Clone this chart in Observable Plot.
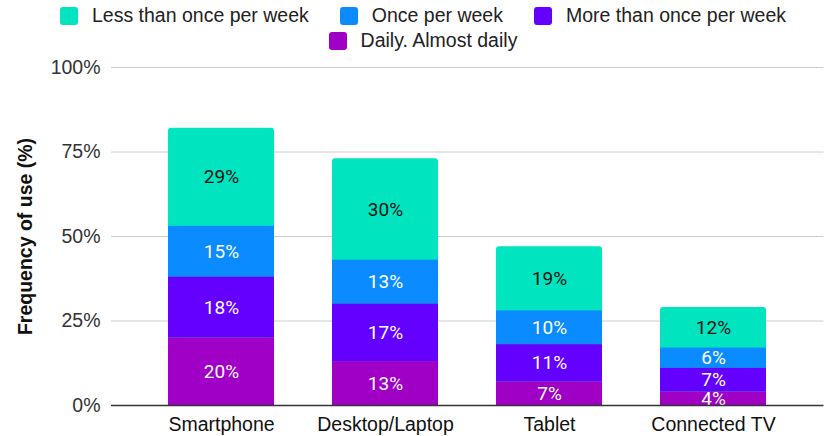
<!DOCTYPE html>
<html>
<head>
<meta charset="utf-8">
<script src="https://cdn.jsdelivr.net/npm/d3@7"></script>
<script src="https://cdn.jsdelivr.net/npm/@observablehq/plot@0.6"></script>
<style>
  html, body { margin: 0; padding: 0; background: #fff; }
  body { font-family: "Liberation Sans", Arial, sans-serif; width: 826px; }
  .legend { height: 55px; padding-left: 20px; padding-top: 3px; box-sizing: border-box; width: 826px; }
  .row { display: flex; justify-content: center; align-items: center; height: 25px; }
  .item { display: flex; align-items: center; margin: 0 15.5px; font-size: 19.5px; color: #222; }
  .sw { width: 18px; height: 18px; border-radius: 3px; margin-right: 14px; }
  svg { display: block; }
</style>
</head>
<body>
<div class="legend" id="legend"></div>
<div id="chart"></div>
<script>
const categories = ["Smartphone", "Desktop/Laptop", "Tablet", "Connected TV"];
const seriesNames = ["Less than once per week", "Once per week", "More than once per week", "Daily. Almost daily"];
const seriesColors = ["#00e5c0", "#0a8bff", "#6400ff", "#a000c6"];
const lessThanOnce = [29, 30, 19, 12];
const oncePerWeek = [15, 13, 10, 6];
const moreThanOnce = [18, 17, 11, 7];
const daily = [20, 13, 7, 4];
const yTicks = [0, 25, 50, 75, 100];

const seriesValues = [lessThanOnce, oncePerWeek, moreThanOnce, daily];
const rows = [];
seriesNames.forEach((s, si) => {
  categories.forEach((c, ci) => rows.push({cat: c, series: s, value: seriesValues[si][ci]}));
});
const totals = categories.map((c, ci) => ({cat: c, total: seriesValues.reduce((a, v) => a + v[ci], 0)}));
const stackOrder = seriesNames.slice().reverse();

// Legend
const legend = document.getElementById("legend");
const legendRows = [seriesNames.slice(0, 3), seriesNames.slice(3)];
legendRows.forEach(names => {
  const r = document.createElement("div");
  r.className = "row";
  names.forEach(n => {
    const it = document.createElement("div");
    it.className = "item";
    const sw = document.createElement("div");
    sw.className = "sw";
    sw.style.background = seriesColors[seriesNames.indexOf(n)];
    const t = document.createElement("span");
    t.textContent = n;
    it.appendChild(sw); it.appendChild(t);
    r.appendChild(it);
  });
  legend.appendChild(r);
});

const sans = "'Liberation Sans', Arial, sans-serif";
const chart = Plot.plot({
  width: 826,
  height: 381,
  marginLeft: 111,
  marginRight: 2.5,
  marginTop: 12,
  marginBottom: 31,
  style: {fontFamily: sans, background: "#fff"},
  x: {domain: categories, paddingInner: 0.3545, paddingOuter: 0.347, label: null},
  y: {domain: [0, 100], label: null},
  color: {domain: seriesNames, range: seriesColors},
  marks: [
    Plot.gridY(yTicks.filter(d => d > 0), {stroke: "#cccccc", strokeOpacity: 1, strokeWidth: 1}),
    Plot.barY(totals, {x: "cat", y: "total", fill: seriesColors[0], rx: 3}),
    Plot.barY(rows.filter(d => d.series !== seriesNames[0]),
      Plot.stackY({x: "cat", y: "value", z: "series", fill: "series", order: stackOrder})),
    Plot.text(rows, Plot.stackY({
      x: "cat", y: "value", z: "series", order: stackOrder,
      text: d => d.series === seriesNames[0] ? null : d.value + "%",
      fill: "white", fontSize: 19, fontFamily: "Roboto, sans-serif"
    })),
    Plot.text(rows, Plot.stackY({
      x: "cat", y: "value", z: "series", order: stackOrder,
      text: d => d.series === seriesNames[0] ? d.value + "%" : null,
      fill: "#111", fontSize: 19, fontFamily: "Roboto, sans-serif"
    })),
    Plot.ruleY([0], {stroke: "#333", strokeWidth: 1.3}),
    Plot.axisY(yTicks, {tickSize: 0, tickPadding: 11, tickFormat: d => d + "%", fontSize: 19.5, fill: "#333", label: null}),
    Plot.axisX({tickSize: 0, tickPadding: 12, fontSize: 19.5, fill: "#111", label: null}),
    Plot.text(["Frequency of use (%)"], {frameAnchor: "left", dx: -86, rotate: -90, textAnchor: "middle", fontSize: 19.5, fontWeight: "bold", fill: "#111"})
  ]
});
document.getElementById("chart").appendChild(chart);
</script>
</body>
</html>
